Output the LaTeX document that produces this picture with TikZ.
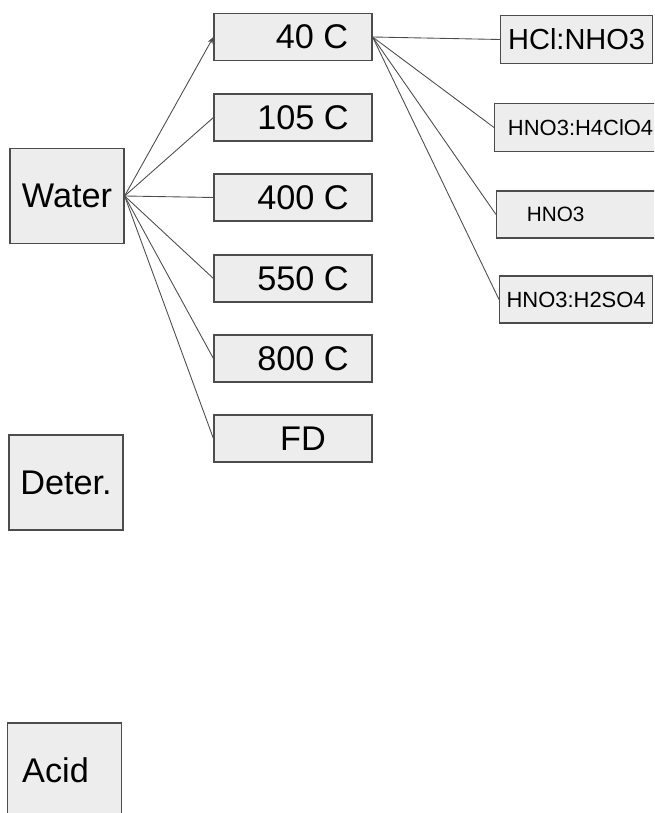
\documentclass[tikz,border=0pt]{standalone}
\usepackage{fontspec}
\setmainfont{Liberation Sans}
\usetikzlibrary{arrows.meta}
\tikzset{
    box/.style={draw=black!70, fill=black!7, line width=0.7pt, inner sep=0pt},
    group/.style={box, minimum width=2.28cm, minimum height=1.9cm, font=\fontsize{19.5}{23}\selectfont},
    tempbox/.style={box, minimum width=3.16cm, minimum height=0.94cm, font=\fontsize{19.5}{23}\selectfont},
    acidbox/.style={box, anchor=west, minimum height=0.96cm, font=\fontsize{12.5}{15}\selectfont},
    link/.style={draw=black!70, line width=0.5pt},
}
\begin{document}
\begin{tikzpicture}[x=0.02cm, y=-0.02cm]
    \clip (0,0) rectangle (654,813);
    \node[group] (water) at (67,196) {Water};
    \node[group] (deter) at (66,482.5) {Deter.};
    \node[group] (acid) at (64.5,770.5) {Acid\hspace*{0.36cm}};
    % temperatures
    \foreach \n/\t/\s/\y in {t40/40 C/0.76/37, t105/105 C/0.4/117.5, t400/400 C/0.4/197.5, t550/550 C/0.4/278.5, t800/800 C/0.4/358.5, fd/FD/0.4/438.5} {
        \node[tempbox] (\n) at (293,\y) {\hspace*{\s cm}\t};
    }
    % digestions
    \node[acidbox, minimum width=3.04cm, font=\fontsize{16.5}{19}\selectfont] (hcl) at (500,39.5) {HCl:NHO3};
    \node[acidbox, minimum width=3.28cm] (hclo) at (494,127.5) {\hspace*{0.16cm}HNO3:H4ClO4};
    \node[acidbox, minimum width=3.28cm, minimum height=0.94cm, font=\fontsize{11.8}{14}\selectfont] (hno) at (496,214.5) {HNO3\hspace*{0.92cm}};
    \node[acidbox, minimum width=3.06cm, minimum height=0.94cm] (hso) at (499,299.5) {HNO3:H2SO4};
    \draw[link, -{Stealth[length=4pt, width=3pt]}] (water.east) -- (t40.west);
    \foreach \n in {t105,t400,t550,t800,fd} \draw[link] (water.east) -- (\n.west);
    \foreach \n in {hcl,hclo,hno,hso} \draw[link] (t40.east) -- (\n.west);
\end{tikzpicture}
\end{document}
